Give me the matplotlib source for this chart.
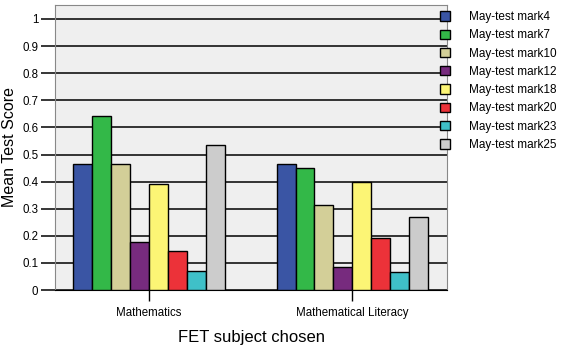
import numpy as np
import matplotlib.pyplot as plt

plt.rcParams['font.family'] = ['Liberation Sans', 'DejaVu Sans']

subjects = ['Mathematics', 'Mathematical Literacy']
series = ['May-test mark4', 'May-test mark7', 'May-test mark10', 'May-test mark12',
          'May-test mark18', 'May-test mark20', 'May-test mark23', 'May-test mark25']
maths = [0.465, 0.643, 0.465, 0.178, 0.393, 0.143, 0.071, 0.536]
literacy = [0.465, 0.451, 0.315, 0.085, 0.399, 0.191, 0.066, 0.269]
colours = ['#3a55a4', '#33b848', '#d3cf98', '#772b7e', '#fcf575', '#ec3239', '#3fc0c8', '#cccccc']

fig = plt.figure(figsize=(5.76, 3.47), dpi=100)
ax = fig.add_axes([0.0955, 0.164, 0.681, 0.822])
ax.set_facecolor('#efefef')

x = np.arange(len(subjects))
w = 0.093
for i, name in enumerate(series):
    vals = [maths[i], literacy[i]]
    ax.bar(x + (i - 3.5) * w, vals, w, color=colours[i], edgecolor='black',
           linewidth=1.0, label=name, zorder=3)

ax.set_xlim(-0.463, 1.468)
ax.set_ylim(0, 1.052)
ax.set_yticks(np.arange(0, 1.01, 0.1))
ax.set_yticklabels(['0', '0.1', '0.2', '0.3', '0.4', '0.5', '0.6', '0.7', '0.8', '0.9', '1'])
ax.set_xticks(x)
ax.set_xticklabels(subjects)
ax.yaxis.grid(True, color='black', linewidth=1.1, zorder=1)
ax.set_axisbelow(True)
ax.tick_params(axis='y', length=10, width=1.1, labelsize=8.3, pad=2)
ax.tick_params(axis='x', length=8, width=1, labelsize=8.3, pad=4)
for s in ax.spines.values():
    s.set_color('#888888')
ax.spines['bottom'].set_color('black')

ax.set_ylabel('Mean Test Score', fontsize=11.5, labelpad=4)
ax.set_xlabel('FET subject chosen', fontsize=12, labelpad=8)

fig.legend(loc='upper left', bbox_to_anchor=(0.764, 0.968), frameon=False, fontsize=8.5,
           borderaxespad=0, borderpad=0,
           handlelength=0.85, handleheight=0.85, labelspacing=0.53, handletextpad=1.6)

fig.savefig('out.png', dpi=100)
